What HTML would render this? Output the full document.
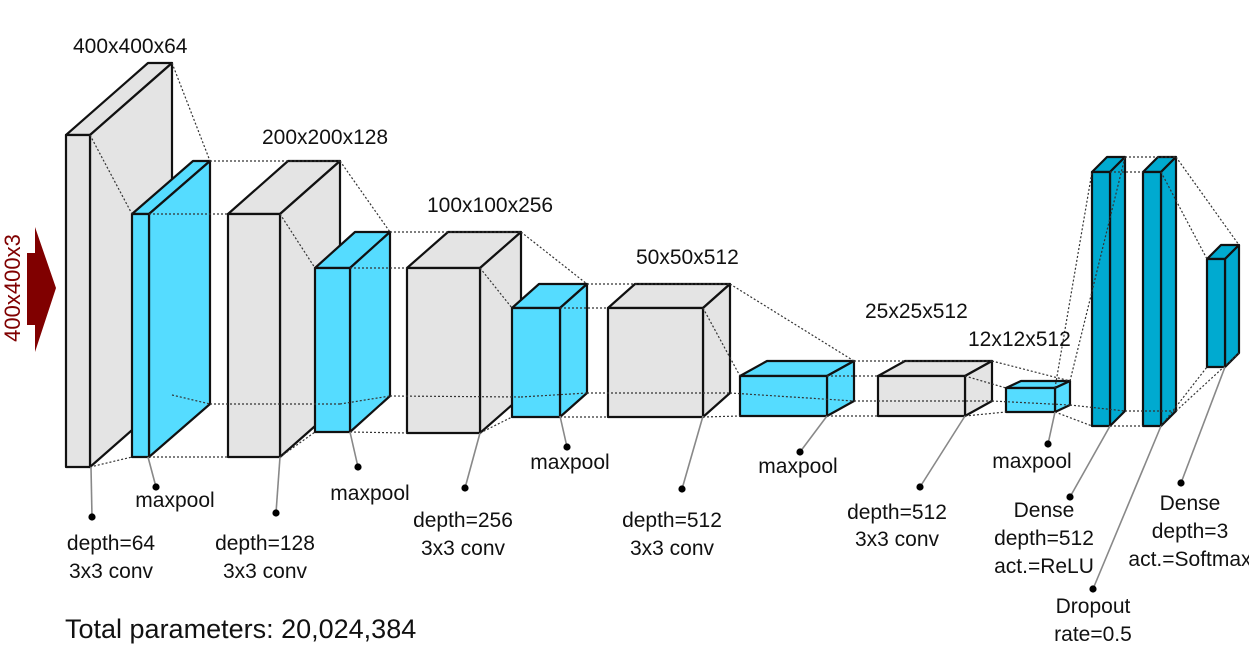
<!DOCTYPE html>
<html><head><meta charset="utf-8"><style>
html,body{margin:0;padding:0;background:#fff;}
svg{display:block;}
text{font-family:"Liberation Sans",Arial,sans-serif;fill:#111;}
</style></head><body>
<svg id="s" width="1249" height="660" viewBox="0 0 1249 660" xmlns="http://www.w3.org/2000/svg">
<g id="boxes"></g>
<g id="dots" fill="none" stroke="#333" stroke-width="1.2" stroke-dasharray="2,2"></g>
<g id="ptr"></g>
<polygon points="27,253 35,253 35,227 56,288 35,352 35,325 27,325" fill="#800000"/>
<text x="0" y="0" font-size="22" transform="translate(20,288) rotate(-90)" text-anchor="middle" style="fill:#800000">400x400x3</text>
<g font-size="21">
<text x="73" y="53">400x400x64</text>
<text x="262" y="144">200x200x128</text>
<text x="427" y="212">100x100x256</text>
<text x="636" y="264">50x50x512</text>
<text x="865" y="318">25x25x512</text>
<text x="968" y="346">12x12x512</text>
</g>
<g font-size="21" text-anchor="middle">
<text x="111" y="550">depth=64</text><text x="111" y="578">3x3 conv</text>
<text x="175" y="507">maxpool</text>
<text x="265" y="550">depth=128</text><text x="265" y="578">3x3 conv</text>
<text x="370" y="500">maxpool</text>
<text x="463" y="527">depth=256</text><text x="463" y="555">3x3 conv</text>
<text x="570" y="469">maxpool</text>
<text x="672" y="527">depth=512</text><text x="672" y="555">3x3 conv</text>
<text x="798" y="473">maxpool</text>
<text x="897" y="519">depth=512</text><text x="897" y="546">3x3 conv</text>
<text x="1032" y="468">maxpool</text>
<text x="1044" y="517">Dense</text><text x="1044" y="545">depth=512</text><text x="1044" y="573">act.=ReLU</text>
<text x="1093" y="613">Dropout</text><text x="1093" y="641">rate=0.5</text>
<text x="1190" y="510">Dense</text><text x="1190" y="538">depth=3</text><text x="1190" y="566">act.=Softmax</text>
</g>
<text x="65" y="638" font-size="27">Total parameters: 20,024,384</text>
</svg>
<script>
var NS="http://www.w3.org/2000/svg";
function el(p,n,a){var e=document.createElementNS(NS,n);for(var k in a)e.setAttribute(k,a[k]);document.getElementById(p).appendChild(e);return e;}
var G="#e4e4e4",C="#55dcff",D="#00aad0";
var B=[
[66,135,24,332,82,72,G],
[132,214,17,243,61,53,C],
[228,214,52,243,60,53,G],
[315,268,35,164,40,36,C],
[407,268,73,165,41,36,G],
[512,308,48,109,27,24,C],
[608,308,95,109,27,24,G],
[740,376,87,40,27,15,C],
[878,376,87,40,27,15,G],
[1006,388,49,24,15,7,C],
[1092,172,18,254,15,15,D],
[1143,172,18,254,15,15,D],
[1207,259,18,108,14,14,D]];
B.forEach(function(b){
var x=b[0],y=b[1],w=b[2],h=b[3],dx=b[4],dy=b[5],c=b[6];
var st={fill:c,stroke:"#111","stroke-width":2.2,"stroke-linejoin":"round"};
st.points=[x,y,x+dx,y-dy,x+w+dx,y-dy,x+w,y].join(" ");el("boxes","polygon",st);
st.points=[x+w,y,x+w+dx,y-dy,x+w+dx,y+h-dy,x+w,y+h].join(" ");el("boxes","polygon",st);
st.points=[x,y,x+w,y,x+w,y+h,x,y+h].join(" ");el("boxes","polygon",st);
});
for(var i=0;i<B.length-1;i++){
var a=B[i],b=B[i+1];
var L=[[a[0]+a[2]+a[4],a[1]-a[5],b[0]+b[2]+b[4],b[1]-b[5]],
[a[0]+a[2],a[1],b[0],b[1]],
[a[0]+a[2],a[1]+a[3],b[0],b[1]+b[3]],
[a[0]+a[2]+a[4],a[1]+a[3]-a[5],b[0]+b[2]+b[4],b[1]+b[3]-b[5]]];
L.forEach(function(l){el("dots","line",{x1:l[0],y1:l[1],x2:l[2],y2:l[3]});});
}
var P=[[91,467,92,517],[148,457,156,487],[280,457,276,513],[350,432,358,467],[480,433,465,488],
[560,416,567,447],[703,416,682,489],[827,416,800,452],[965,416,920,487],[1055,412,1048,444],
[1110,426,1070,497],[1161,426,1093,589],[1225,367,1181,483]];
P.forEach(function(p){el("ptr","line",{x1:p[0],y1:p[1],x2:p[2],y2:p[3],stroke:"#888","stroke-width":1.6});
el("ptr","circle",{cx:p[2],cy:p[3],r:3.6,fill:"#000"});});
</script>
</body></html>
